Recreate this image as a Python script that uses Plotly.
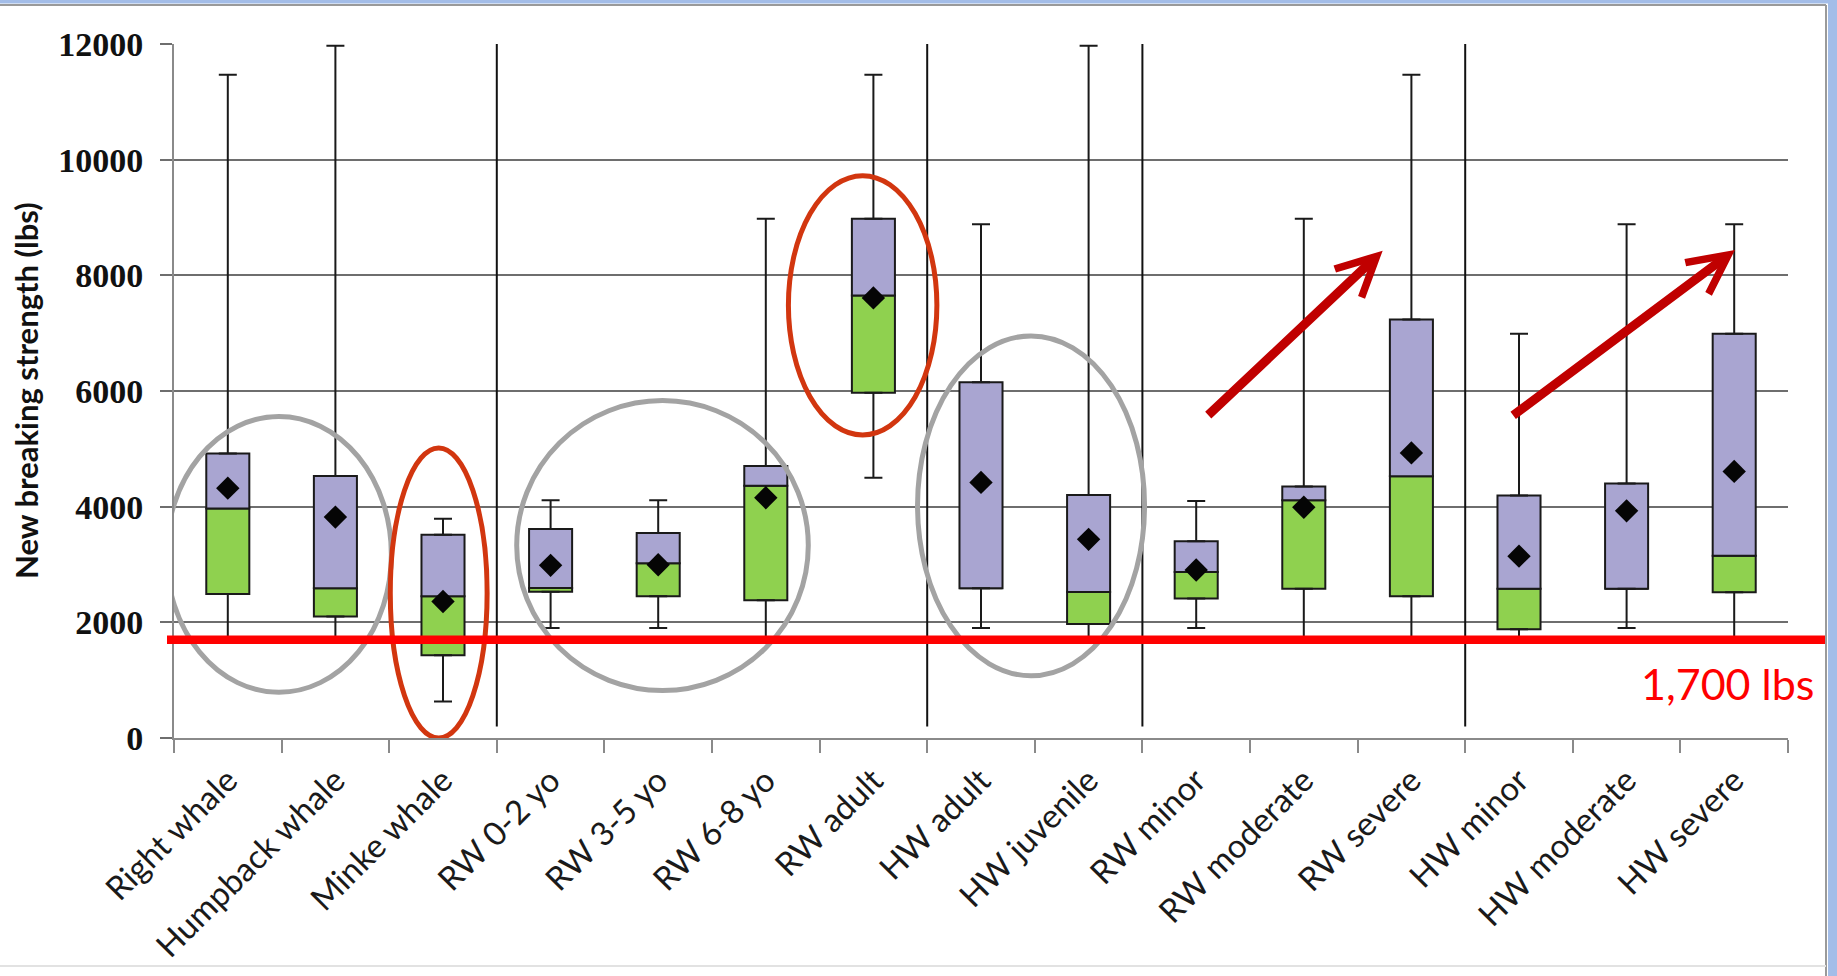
import plotly.graph_objects as go

# ---- data -----------------------------------------------------------------
categories = ["Right whale", "Humpback whale", "Minke whale", "RW 0-2 yo",
              "RW 3-5 yo", "RW 6-8 yo", "RW adult", "HW adult", "HW juvenile",
              "RW minor", "RW moderate", "RW severe", "HW minor",
              "HW moderate", "HW severe"]

mins    = [1700, 1700,  630, 1900, 1900, 1700, 4500, 1900, 1700, 1900, 1700, 1700, 1700, 1900, 1700]
q1      = [2490, 2100, 1430, 2530, 2450, 2380, 5970, 2590, 1970, 2410, 2580, 2450, 1880, 2580, 2520]
medians = [3970, 2590, 2450, 2595, 3020, 4360, 7650, 2590, 2525, 2870, 4110, 4525, 2580, 2580, 3150]
q3      = [4920, 4530, 3515, 3615, 3545, 4705, 8980, 6150, 4200, 3400, 4350, 7235, 4195, 4400, 6990]
maxs    = [11470, 11970, 3790, 4110, 4110, 8980, 11470, 8885, 11970, 4100, 8980, 11470, 6990, 8885, 8885]
means   = [4320, 3820, 2360, 2985, 2995, 4155, 7610, 4420, 3435, 2905, 3990, 4930, 3144, 3928, 4610]

THRESHOLD = 1700                      # minimum breaking strength reference line
group_breaks = [2.5, 6.5, 8.5, 11.5]  # dividers between category groups

# highlight ellipses: (x0, x1, y0, y1, colour) in category-index / lbs units
highlights = [
    (-0.57, 1.52, 790, 5560, "#A3A3A3"),
    (1.51, 2.41, 0, 5015, "#D2360F"),
    (2.685, 5.395, 821, 5834, "#A3A3A3"),
    (5.21, 6.59, 5240, 9724, "#D2360F"),
    (6.41, 8.52, 1077, 6953, "#A3A3A3"),
]
# trend arrows: (tail_x, tail_y, tip_x, tip_y)
trend_arrows = [
    (9.098, 5558, 10.733, 8427),
    (11.932, 5558, 14.007, 8439),
]

# ---- styling --------------------------------------------------------------
PURPLE = "#A9A5D1"
GREEN = "#8FD14F"
EDGE = "#1A1A1A"
W, H = 1837, 976
ML, MR, MT, MB = 174, 49, 44, 238
PW, PH = W - ML - MR, H - MT - MB


def px_x(px):
    return (px - ML) / PW


def px_y(py):
    return (H - MB - py) / PH


fig = go.Figure()

# lower half of each box (Q1 -> median)
fig.add_trace(go.Bar(
    x=categories, y=[m - a for m, a in zip(medians, q1)], base=q1,
    width=0.4, marker=dict(color=GREEN, line=dict(color=EDGE, width=2)),
    showlegend=False, hoverinfo="skip"))
# upper half of each box (median -> Q3)
fig.add_trace(go.Bar(
    x=categories, y=[b - m for b, m in zip(q3, medians)], base=medians,
    width=0.4, marker=dict(color=PURPLE, line=dict(color=EDGE, width=2)),
    showlegend=False, hoverinfo="skip"))

# upper whiskers (Q3 -> max)
fig.add_trace(go.Scatter(
    x=categories, y=q3, mode="markers",
    marker=dict(color="rgba(0,0,0,0)", size=1),
    error_y=dict(type="data", symmetric=False,
                 array=[mx - b for mx, b in zip(maxs, q3)],
                 arrayminus=[0] * len(q3),
                 color=EDGE, thickness=2, width=9),
    showlegend=False, hoverinfo="skip"))
# lower whiskers (min -> Q1)
fig.add_trace(go.Scatter(
    x=categories, y=q1, mode="markers",
    marker=dict(color="rgba(0,0,0,0)", size=1),
    error_y=dict(type="data", symmetric=False,
                 array=[0] * len(q1),
                 arrayminus=[a - mn for a, mn in zip(q1, mins)],
                 color=EDGE, thickness=2, width=9),
    showlegend=False, hoverinfo="skip"))

# means
fig.add_trace(go.Scatter(
    x=categories, y=means, mode="markers",
    marker=dict(symbol="diamond", size=18, color="#050505"),
    showlegend=False, hoverinfo="skip"))

shapes = []
# group dividers
for b in group_breaks:
    shapes.append(dict(type="line", xref="x", yref="y", x0=b, x1=b,
                       y0=200, y1=12000, line=dict(color="#111111", width=2),
                       layer="above"))
# highlight ellipses
for x0, x1, y0, y1, col in highlights:
    shapes.append(dict(type="circle", xref="x", yref="y", x0=x0, x1=x1,
                       y0=y0, y1=y1, line=dict(color=col, width=5),
                       fillcolor="rgba(0,0,0,0)", layer="above"))
# threshold line across the whole panel
shapes.append(dict(type="line", xref="paper", yref="y",
                   x0=px_x(167), x1=px_x(1827), y0=THRESHOLD, y1=THRESHOLD,
                   line=dict(color="#FF0000", width=8.5), layer="above"))

# slide frame around the chart panel
FRAME = "#A3BDE8"
shapes += [
    dict(type="rect", xref="paper", yref="paper", x0=px_x(-5), x1=px_x(W + 5),
         y0=px_y(3.5), y1=px_y(-5), fillcolor=FRAME, line=dict(width=0), layer="above"),
    dict(type="rect", xref="paper", yref="paper", x0=px_x(1828), x1=px_x(W + 5),
         y0=px_y(H + 5), y1=px_y(-5), fillcolor=FRAME, line=dict(width=0), layer="above"),
    dict(type="line", xref="paper", yref="paper", x0=px_x(-5), x1=px_x(1826),
         y0=px_y(5), y1=px_y(5), line=dict(color="#9A9A9A", width=2), layer="above"),
    dict(type="line", xref="paper", yref="paper", x0=px_x(1826), x1=px_x(1826),
         y0=px_y(5), y1=px_y(H + 5), line=dict(color="#9A9A9A", width=2), layer="above"),
    dict(type="line", xref="paper", yref="paper", x0=px_x(-5), x1=px_x(1826),
         y0=px_y(966), y1=px_y(966), line=dict(color="#E2E2E2", width=2), layer="above"),
]

annotations = []
for tx, ty, hx, hy in trend_arrows:
    annotations.append(dict(
        x=hx, y=hy, xref="x", yref="y", ax=tx, ay=ty, axref="x", ayref="y",
        text="", showarrow=True, arrowhead=5, arrowsize=0.85, arrowwidth=9,
        arrowcolor="#C00000", standoff=0, startstandoff=0))

annotations.append(dict(
    text=f"{THRESHOLD:,} lbs", xref="paper", yref="y", x=px_x(1816), y=940,
    xanchor="right", yanchor="middle", showarrow=False,
    font=dict(family="Lato", size=43, color="#FF0000")))

annotations.append(dict(
    text="New breaking strength (lbs)", xref="paper", yref="paper",
    x=px_x(26), y=0.5, xanchor="center", yanchor="middle", textangle=-90,
    showarrow=False,
    font=dict(family="Lato", size=31, color="#111111", weight="bold")))

fig.update_layout(
    width=W, height=H, autosize=False,
    margin=dict(l=ML, r=MR, t=MT, b=MB, pad=0),
    paper_bgcolor="white", plot_bgcolor="white",
    barmode="overlay", bargap=0.6,
    shapes=shapes, annotations=annotations,
    xaxis=dict(type="category", range=[-0.5, 14.5], tickson="boundaries",
               ticks="outside", ticklen=13, tickwidth=2, tickcolor="#8A8A8A",
               showline=True, linecolor="#8A8A8A", linewidth=2,
               showgrid=False, tickangle=-45, ticklabelstandoff=8,
               tickfont=dict(family="Lato", size=33, color="#1A1A1A")),
    yaxis=dict(range=[0, 12000], tickvals=[0, 2000, 4000, 6000, 8000, 10000, 12000],
               tickformat="d", showgrid=True, gridcolor="#6E6E6E", gridwidth=1.5,
               showline=True, linecolor="#8A8A8A", linewidth=2, zeroline=False,
               ticks="outside", ticklen=12, tickwidth=1.5, tickcolor="#6E6E6E",
               ticklabelstandoff=10,
               tickfont=dict(family="Liberation Serif", size=34, color="#111111",
                             weight="bold")),
)

fig.write_html("out.html")
